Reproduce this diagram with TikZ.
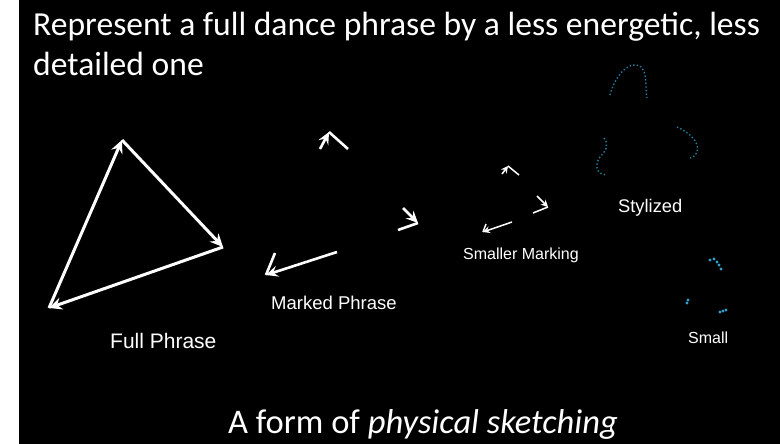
\documentclass[tikz,border=0pt]{standalone}
\usepackage{fontspec}
\setmainfont{Carlito}
\newfontfamily\arialfont{Liberation Sans}
\usetikzlibrary{arrows.meta}

\definecolor{dotblue}{RGB}{35,125,160}
\definecolor{blobblue}{RGB}{50,160,205}

\tikzset{
  label/.style={text=white, inner sep=0pt, anchor=base west, font=\arialfont},
  fullarrow/.style={white, line width=3pt, -{Stealth[length=13pt, width=12pt, inset=4.5pt]}},
  markarrow/.style={white, line width=2.6pt, -{Stealth[length=12pt, width=11pt, inset=4.5pt]}},
  markline/.style={white, line width=2.6pt},
  smallarrow/.style={white, line width=1.5pt, -{Stealth[length=7pt, width=7pt, inset=2.5pt]}},
  smallline/.style={white, line width=1.5pt},
  dotcurve/.style={dotblue, line width=1.4pt, dash pattern=on 1.4pt off 2.2pt},
  blob/.style={circle, fill=blobblue, inner sep=0pt, minimum size=3.2pt}
}

\begin{document}
\begin{tikzpicture}[x=1pt, y=-1pt]
    \useasboundingbox (0,0) rectangle (780,444);
    \fill[white] (0,0) rectangle (780,444);
    \fill[black] (19,0) rectangle (780,444);

    % Title and footer
    \node[text=white, inner sep=0pt, anchor=base west, font=\fontsize{33.6}{40}\selectfont] (title1) at (33,36) {Represent a full dance phrase by a less energetic, less};
    \node[text=white, inner sep=0pt, anchor=base west, font=\fontsize{33.6}{40}\selectfont] (title2) at (33,76) {detailed one};
    \node[text=white, inner sep=0pt, anchor=base, font=\fontsize{34.5}{40}\selectfont] (footer) at (423,433) {A form of \textit{physical sketching}};

    % Full phrase
    \coordinate (fulltop) at (122,140);
    \coordinate (fullright) at (223,247);
    \coordinate (fullleft) at (49,308);
    \draw[fullarrow] (fullleft) -- (fulltop);
    \draw[fullarrow] (fulltop) -- (fullright);
    \draw[fullarrow] (fullright) -- (fullleft);
    \node[label, font=\arialfont\fontsize{21}{25}\selectfont] (fulltxt) at (110,348) {Full Phrase};

    % Marked phrase
    \coordinate (marktopin) at (320,149);
    \coordinate (marktop) at (329,132);
    \coordinate (marktopout) at (348,149);
    \coordinate (markrightin) at (403,208);
    \coordinate (markright) at (418,223);
    \coordinate (markrightout) at (398,230);
    \coordinate (markleftin) at (337,252);
    \coordinate (markleft) at (266,275);
    \coordinate (markleftout) at (275,253);
    \draw[markarrow] (marktopin) -- (marktop);
    \draw[markline] (marktop) -- (marktopout);
    \draw[markarrow] (markrightin) -- (markright);
    \draw[markline] (markright) -- (markrightout);
    \draw[markarrow] (markleftin) -- (markleft);
    \draw[markline] (markleft) -- (markleftout);
    \node[label, font=\arialfont\fontsize{18.5}{22}\selectfont] (marktxt) at (271,309) {Marked Phrase};

    % Smaller marking
    \coordinate (smalltopin) at (502,174);
    \coordinate (smalltop) at (508,166);
    \coordinate (smalltopout) at (519,175);
    \coordinate (smallrightin) at (537,196);
    \coordinate (smallright) at (548,207);
    \coordinate (smallrightout) at (533,213);
    \coordinate (smallleftin) at (512,222);
    \coordinate (smallleft) at (483,232);
    \coordinate (smallleftout) at (486,224);
    \draw[smallarrow] (smalltopin) -- (smalltop);
    \draw[smallline] (smalltop) -- (smalltopout);
    \draw[smallarrow] (smallrightin) -- (smallright);
    \draw[smallline] (smallright) -- (smallrightout);
    \draw[smallarrow] (smallleftin) -- (smallleft);
    \draw[smallline] (smallleft) -- (smallleftout);
    \node[label, font=\arialfont\fontsize{16}{19}\selectfont] (smallertxt) at (463,259) {Smaller Marking};

    % Stylized
    \draw[dotcurve] (610,95) .. controls (614,78) and (628,60) .. (640,66) .. controls (648,72) and (645,90) .. (647,98);
    \draw[dotcurve] (677,127) .. controls (690,133) and (700,142) .. (697,152) .. controls (695,158) and (690,158) .. (688,158);
    \draw[dotcurve] (604,138) .. controls (610,145) and (605,152) .. (600,157) .. controls (595,163) and (595,175) .. (607,175);
    \node[label, font=\arialfont\fontsize{18.3}{22}\selectfont] (stylizedtxt) at (618,212) {Stylized};

    % Small
    \foreach \px/\py in {710/260, 714/259, 717/262, 719/265, 721/269, 688/300, 687/303, 720/312, 723/311, 726/310}
      \node[blob] at (\px,\py) {};
    \node[label, font=\arialfont\fontsize{16}{19}\selectfont] (smalltxt) at (688,343) {Small};
\end{tikzpicture}
\end{document}
